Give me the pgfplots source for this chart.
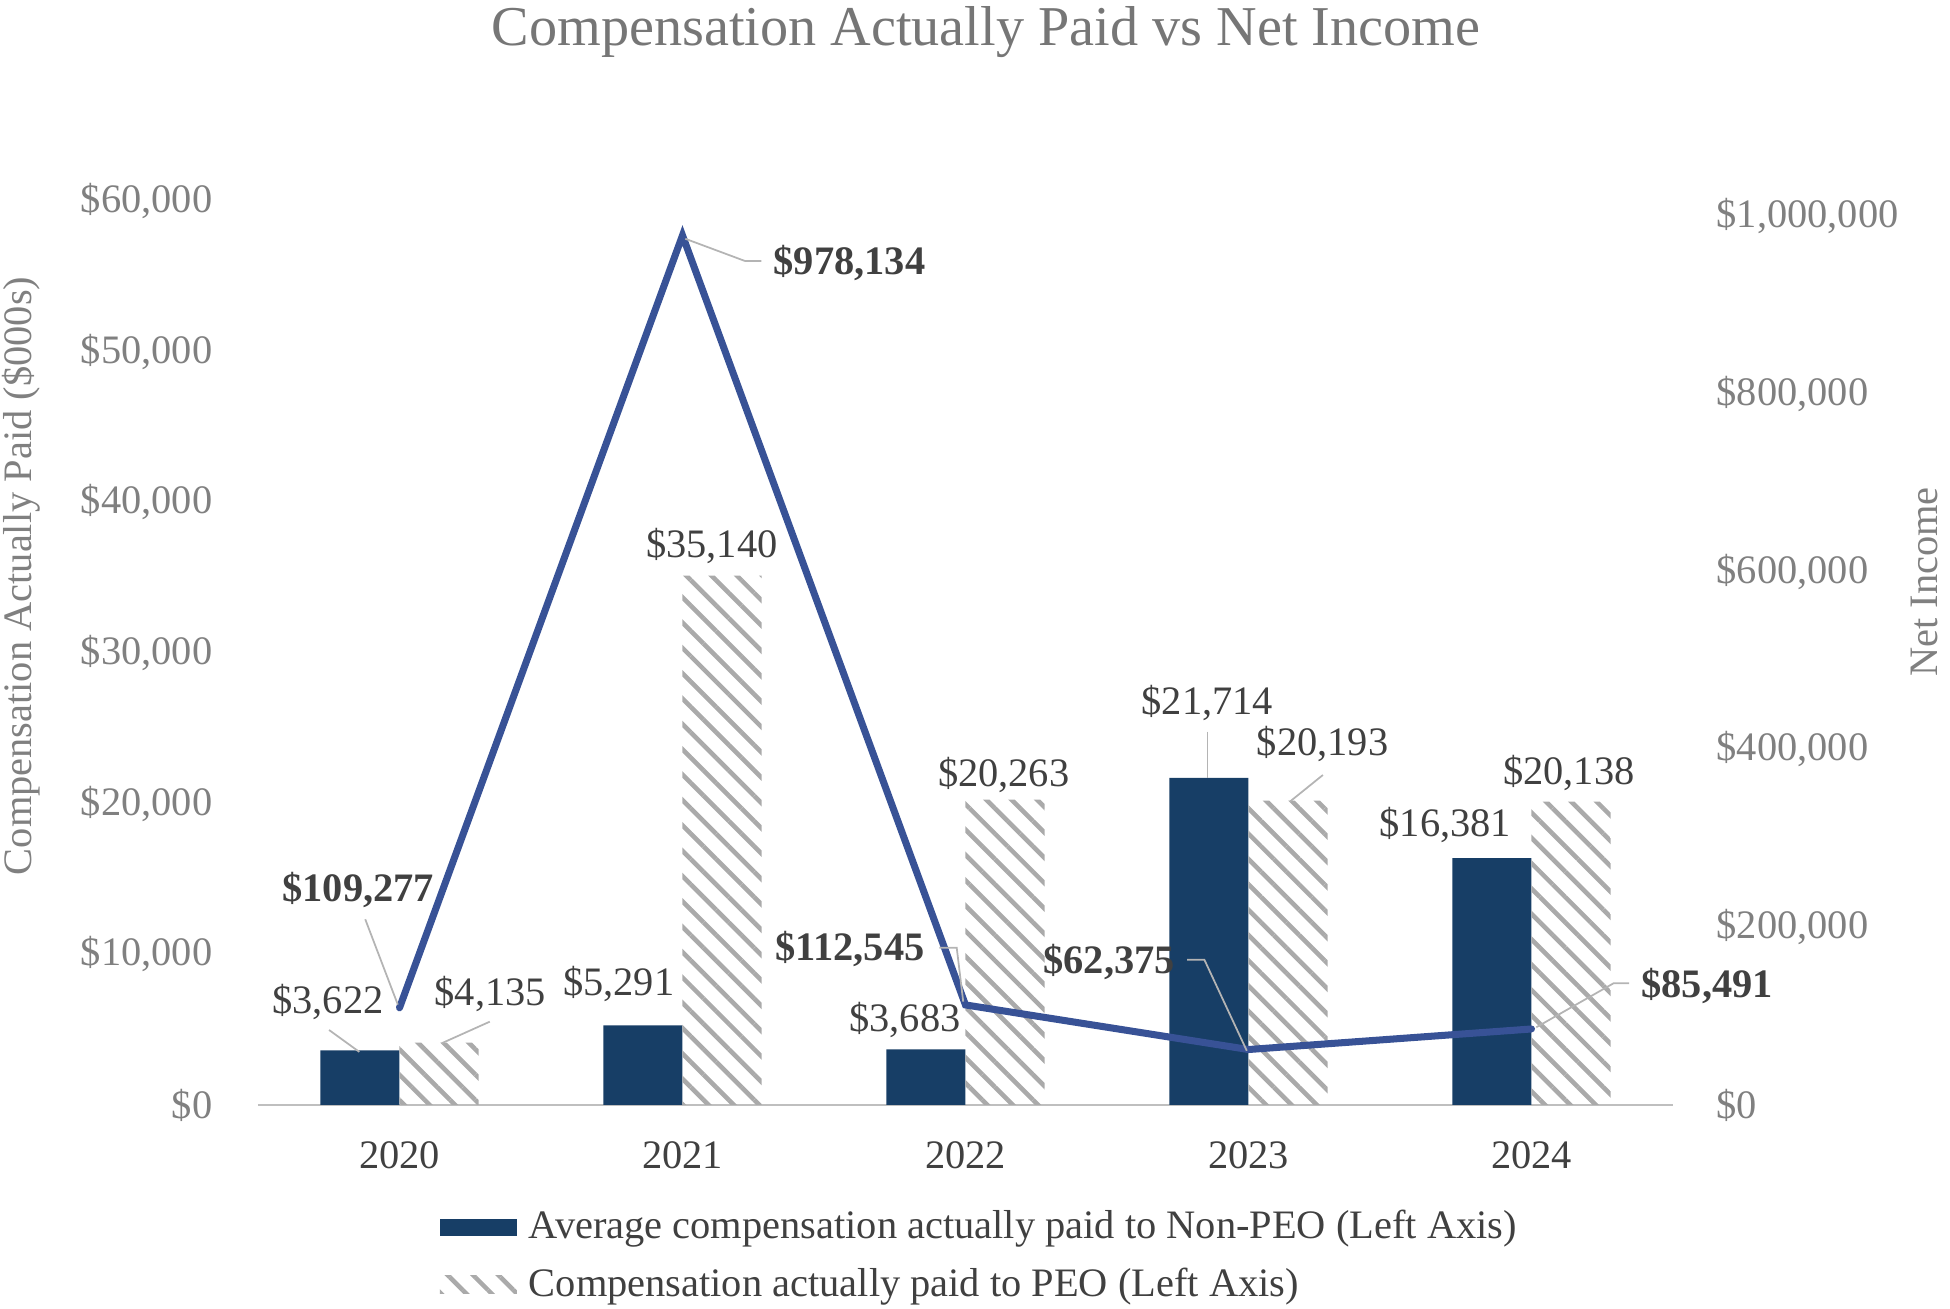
\documentclass[border=0pt]{standalone}
\usepackage{pgfplots}
\pgfplotsset{compat=1.18}
\usetikzlibrary{patterns.meta}
\usepackage{fontspec}
\setmainfont{Liberation Serif}
\definecolor{darkbar}{RGB}{23,62,102}
\definecolor{lineblue}{RGB}{56,82,150}
\definecolor{hatchgray}{RGB}{170,170,170}
\definecolor{tickgray}{RGB}{128,128,128}
\definecolor{titlegray}{RGB}{118,118,118}
\definecolor{labeldark}{RGB}{64,64,64}
\definecolor{axisgray}{RGB}{191,191,191}
\definecolor{leadergray}{RGB}{180,180,180}
\newcommand{\fs}{\fontsize{11.5}{13.8}\selectfont}
\tikzset{lab/.style={font=\fs, text=labeldark, inner sep=0pt},
         blab/.style={font=\fs\bfseries, text=labeldark, inner sep=0pt},
         ldr/.style={draw=leadergray, line width=0.5pt}}
\pgfplotsset{common/.style={at={(0,0)}, anchor=south west, scale only axis,
  width=14.15cm, height=9.04cm, xmin=-0.5, xmax=4.5, ymin=0,
  scaled y ticks=false}}

\begin{document}
\begin{tikzpicture}
\useasboundingbox (-2.58,-2.04) rectangle (16.92,11.05);
% left axis with bars
\begin{axis}[common, ymax=60000,
  axis x line*=bottom, axis y line*=left,
  x axis line style={draw=axisgray, line width=0.8pt, -},
  y axis line style={draw=none},
  major tick length=0pt,
  xtick={0,1,2,3,4}, xticklabels={2020,2021,2022,2023,2024},
  xticklabel style={anchor=north, inner sep=0pt, yshift=-0.355cm, text=labeldark, font=\fs},
  ytick={0,10000,20000,30000,40000,50000,60000},
  yticklabels={{\$0},{\$10,000},{\$20,000},{\$30,000},{\$40,000},{\$50,000},{\$60,000}},
  yticklabel style={anchor=east, inner sep=0pt, xshift=-0.45cm, text=tickgray, font=\fs},
  legend style={at={(0.128,-0.167)}, anchor=west, draw=none, fill=none,
    font=\fs, text=labeldark, row sep=0.1cm, inner sep=0pt,
    /tikz/every odd column/.append style={column sep=0.05cm}},
  legend cell align=left,
]
\addplot[ybar, bar width=0.28, bar shift=-0.14, fill=darkbar, draw=none,
  legend image code/.code={\fill[darkbar] (0cm,-0.085cm) rectangle (0.77cm,0.085cm);}]
  coordinates {(0,3622) (1,5291) (2,3683) (3,21714) (4,16381)};
\addlegendentry{Average compensation actually paid to Non-PEO (Left Axis)}
\addplot[ybar, bar width=0.28, bar shift=0.14, draw=none,
  pattern={Lines[angle=-45,distance=5.1pt,line width=1.3pt]}, pattern color=hatchgray,
  legend image code/.code={\fill[pattern={Lines[angle=-45,distance=5.1pt,line width=1.3pt]}, pattern color=hatchgray] (0cm,-0.09cm) rectangle (0.77cm,0.09cm);}]
  coordinates {(0,4135) (1,35140) (2,20263) (3,20193) (4,20138)};
\addlegendentry{Compensation actually paid to PEO (Left Axis)}
\end{axis}
% right axis with line
\begin{axis}[common, ymax=1016873,
  axis x line=none, axis y line*=right,
  y axis line style={draw=none},
  major tick length=0pt,
  ytick={0,200000,400000,600000,800000,1000000},
  yticklabels={{\$0},{\$200,000},{\$400,000},{\$600,000},{\$800,000},{\$1,000,000}},
  yticklabel style={anchor=west, inner sep=0pt, xshift=0.43cm, text=tickgray, font=\fs},
]
\addplot[lineblue, line width=2.0pt, line cap=round, mark=none]
  coordinates {(0,109277) (1,978134) (2,112545) (3,62375) (4,85491)};
\end{axis}
% annotations in left-axis units
\begin{axis}[common, ymax=60000, hide axis, clip=false]
\draw[ldr] (axis cs:-0.121,12325) -- (axis cs:-0.006,6663);
\draw[ldr] (axis cs:-0.249,4978) -- (axis cs:-0.142,3523);
\draw[ldr] (axis cs:0.319,5529) -- (axis cs:0.149,4095);
\draw[ldr] (axis cs:1.279,56016) -- (axis cs:1.221,56016) -- (axis cs:1.010,57492);
\draw[ldr] (axis cs:1.908,10440) -- (axis cs:1.969,10440) -- (axis cs:1.992,6856);
\draw[ldr] (axis cs:2.783,9645) -- (axis cs:2.844,9645) -- (axis cs:2.994,3600);
\draw[ldr] (axis cs:2.855,24776) -- (axis cs:2.855,21714);
\draw[ldr] (axis cs:3.263,21902) -- (axis cs:3.146,20130);
\draw[ldr] (axis cs:4.345,8077) -- (axis cs:4.290,8077) -- (axis cs:4.017,5157);
\node[blab] at (axis cs:-0.146,14270) {\$109,277};
\node[lab]  at (axis cs:-0.253,6836) {\$3,622};
\node[lab]  at (axis cs:0.321,7367) {\$4,135};
\node[lab]  at (axis cs:0.775,8031) {\$5,291};
\node[lab]  at (axis cs:1.104,37101) {\$35,140};
\node[blab] at (axis cs:1.590,55917) {\$978,134};
\node[lab]  at (axis cs:2.135,21902) {\$20,263};
\node[lab]  at (axis cs:1.786,5641) {\$3,683};
\node[blab] at (axis cs:1.591,10354) {\$112,545};
\node[lab]  at (axis cs:2.855,26714) {\$21,714};
\node[lab]  at (axis cs:3.262,23960) {\$20,193};
\node[blab] at (axis cs:2.508,9511) {\$62,375};
\node[lab]  at (axis cs:3.696,18615) {\$16,381};
\node[lab]  at (axis cs:4.132,22068) {\$20,138};
\node[blab] at (axis cs:4.621,7911) {\$85,491};
\end{axis}
\node[font=\fontsize{16}{19}\selectfont, text=titlegray, inner sep=0pt] at (7.28,10.73) {Compensation Actually Paid vs Net Income};
\node[font=\fs, text=tickgray, rotate=90, inner sep=0pt] at (-2.37,5.29) {Compensation Actually Paid (\$000s)};
\node[font=\fs, text=tickgray, rotate=90, inner sep=0pt] at (16.66,5.23) {Net Income};
\end{tikzpicture}
\end{document}
